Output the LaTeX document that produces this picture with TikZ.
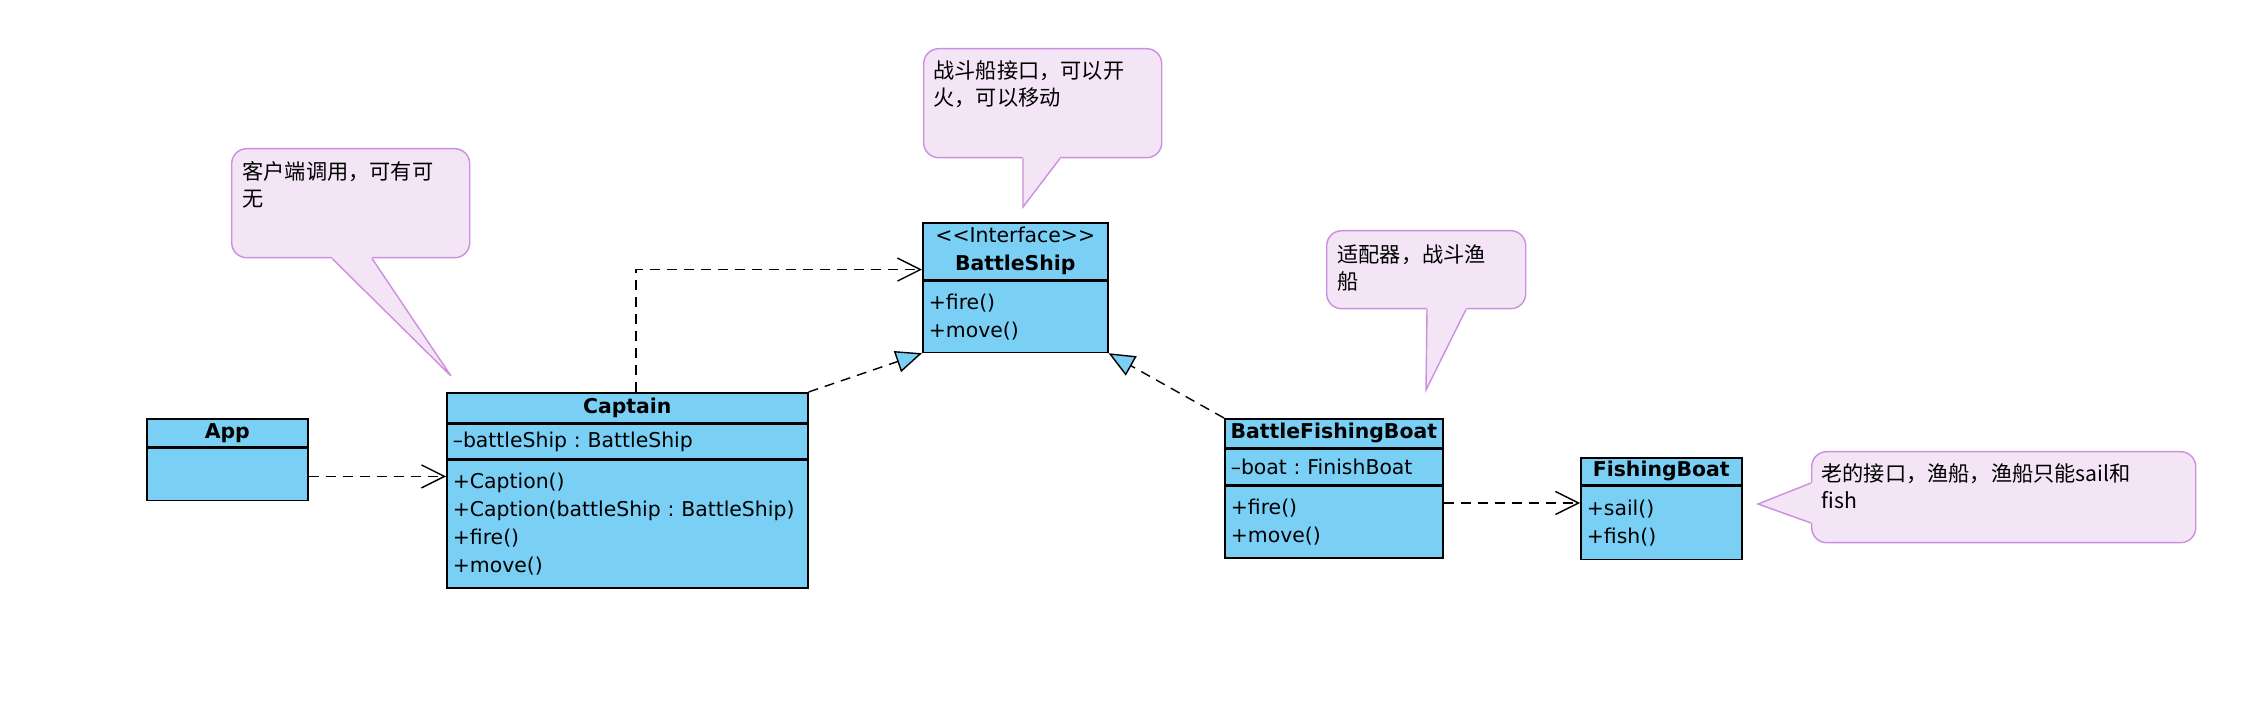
\documentclass[tikz,border=0pt]{standalone}
\usepackage{fontspec}
\setmainfont{DejaVu Sans}
\newfontfamily\cjk{Noto Sans CJK SC}
\usetikzlibrary{arrows.meta,positioning}
\definecolor{clsblue}{RGB}{122,207,245}
\definecolor{notefill}{RGB}{243,229,246}
\definecolor{notedraw}{RGB}{204,142,222}
\frenchspacing

\begin{document}
\begin{tikzpicture}[
    x=0.5pt,y=-0.5pt,
    font=\fontsize{10.2}{14}\selectfont,
    clshead/.style={draw,fill=clsblue,line width=0.8pt,anchor=north west,inner sep=0pt,align=center},
    clsbody/.style={draw,fill=clsblue,line width=0.8pt,inner xsep=3pt,inner ysep=1pt,align=left},
    note/.style={draw=notedraw,fill=notefill,line width=0.7pt,rounded corners=7.5pt,anchor=north west,inner sep=0pt},
    notetext/.style={anchor=north west,inner sep=0pt,align=left,font=\cjk\fontsize{10.6}{13.5}\selectfont},
    tail/.style={draw=notedraw,line width=0.7pt},
    dep/.style={draw,line width=0.7pt,dash pattern=on 5pt off 3.5pt,-{Straight Barb[length=11.5pt,width=11.5pt]}},
    impl/.style={draw,line width=0.7pt,dash pattern=on 5pt off 3.5pt,-{Triangle[length=13pt,width=11pt,fill=clsblue]}}]
  \path[use as bounding box,fill=white] (0,0) rectangle (2250,716);

  % classes
  \node[clshead,minimum width=80.5pt,minimum height=14pt] (app) at (146,418) {\textbf{App}};
  \node[clsbody,below=0pt of app,minimum width=80.5pt,minimum height=26pt] (appbody) {};

  \node[clshead,minimum width=180.5pt,minimum height=15pt] (captain) at (446,392) {\textbf{Captain}};
  \node[clsbody,below=0pt of captain,minimum width=180.5pt,minimum height=17pt,text width=174.5pt] (captainattr) {--battleShip : BattleShip};
  \node[clsbody,below=0pt of captainattr,minimum width=180.5pt,minimum height=64pt,text width=174.5pt] (captainops)
    {+Caption()\\+Caption(battleShip : BattleShip)\\+fire()\\+move()};

  \node[clshead,minimum width=92.5pt,minimum height=28.5pt] (bship) at (922,222) {<{}<Interface>{}>\\\textbf{BattleShip}};
  \node[clsbody,below=0pt of bship,minimum width=92.5pt,minimum height=35.5pt,text width=86.5pt] (bshipops) {+fire()\\+move()};

  \node[clshead,minimum width=109pt,minimum height=14.5pt] (bfb) at (1224,418) {\textbf{BattleFishingBoat}};
  \node[clsbody,below=0pt of bfb,minimum width=109pt,minimum height=17.5pt,text width=103pt] (bfbattr) {--boat : FinishBoat};
  \node[clsbody,below=0pt of bfbattr,minimum width=109pt,minimum height=36pt,text width=103pt] (bfbops) {+fire()\\+move()};

  \node[clshead,minimum width=80.5pt,minimum height=13.5pt] (fb) at (1580,457) {\textbf{FishingBoat}};
  \node[clsbody,below=0pt of fb,minimum width=80.5pt,minimum height=36.5pt,text width=74.5pt] (fbops) {+sail()\\+fish()};

  % notes
  \node[note,minimum width=119pt,minimum height=54.5pt] (capnote) at (231,148) {};
  \coordinate (capnotetip) at (451,376);
  \fill[notefill] ([xshift=50.5pt]capnote.south west) -- (capnotetip) -- ([xshift=70.5pt]capnote.south west)
    -- ([xshift=70.5pt,yshift=2pt]capnote.south west) -- ([xshift=50.5pt,yshift=2pt]capnote.south west) -- cycle;
  \draw[tail] ([xshift=50.5pt]capnote.south west) -- (capnotetip) -- ([xshift=70.5pt]capnote.south west);
  \node[notetext] (capnotetxt) at ([xshift=5.5pt,yshift=-6.5pt]capnote.north west) {客户端调用，可有可\\无};

  \node[note,minimum width=119pt,minimum height=54.5pt] (bsnote) at (923,48) {};
  \coordinate (bsnotetip) at (1023,207);
  \fill[notefill] ([xshift=50pt]bsnote.south west) -- (bsnotetip) -- ([xshift=68.5pt]bsnote.south west)
    -- ([xshift=68.5pt,yshift=2pt]bsnote.south west) -- ([xshift=50pt,yshift=2pt]bsnote.south west) -- cycle;
  \draw[tail] ([xshift=50pt]bsnote.south west) -- (bsnotetip) -- ([xshift=68.5pt]bsnote.south west);
  \node[notetext] (bsnotetxt) at ([xshift=5pt,yshift=-6pt]bsnote.north west) {战斗船接口，可以开\\火，可以移动};

  \node[note,minimum width=99.5pt,minimum height=39pt] (bfbnote) at (1326,230) {};
  \coordinate (bfbnotetip) at (1426,390);
  \fill[notefill] ([xshift=50.5pt]bfbnote.south west) -- (bfbnotetip) -- ([xshift=70pt]bfbnote.south west)
    -- ([xshift=70pt,yshift=2pt]bfbnote.south west) -- ([xshift=50.5pt,yshift=2pt]bfbnote.south west) -- cycle;
  \draw[tail] ([xshift=50.5pt]bfbnote.south west) -- (bfbnotetip) -- ([xshift=70pt]bfbnote.south west);
  \node[notetext] (bfbnotetxt) at ([xshift=5.5pt,yshift=-7pt]bfbnote.north west) {适配器，战斗渔\\船};

  \node[note,minimum width=192pt,minimum height=45.5pt] (fbnote) at (1811,451) {};
  \coordinate (fbnotetip) at (1758,504);
  \fill[notefill] ([yshift=-16pt]fbnote.north west) -- (fbnotetip) -- ([yshift=-36pt]fbnote.north west)
    -- ([xshift=2pt,yshift=-36pt]fbnote.north west) -- ([xshift=2pt,yshift=-16pt]fbnote.north west) -- cycle;
  \draw[tail] ([yshift=-16pt]fbnote.north west) -- (fbnotetip) -- ([yshift=-36pt]fbnote.north west);
  \node[notetext] (fbnotetxt) at ([xshift=5pt,yshift=-6pt]fbnote.north west) {老的接口，渔船，渔船只能sail和\\fish};

  % relations
  \coordinate (appout) at ([yshift=-1pt]appbody.east);
  \draw[dep] (appout) -- (appout -| captainops.west);
  \draw[dep] ([xshift=95pt]captain.north west) |- ([yshift=5.5pt]bshipops.north west);
  \draw[impl] (captain.north east) -- (bshipops.south west);
  \draw[impl] (bfb.north west) -- (bshipops.south east);
  \coordinate (bfbout) at ([yshift=9.5pt]bfbops.east);
  \draw[dep] (bfbout) -- (bfbout -| fbops.west);
\end{tikzpicture}
\end{document}
